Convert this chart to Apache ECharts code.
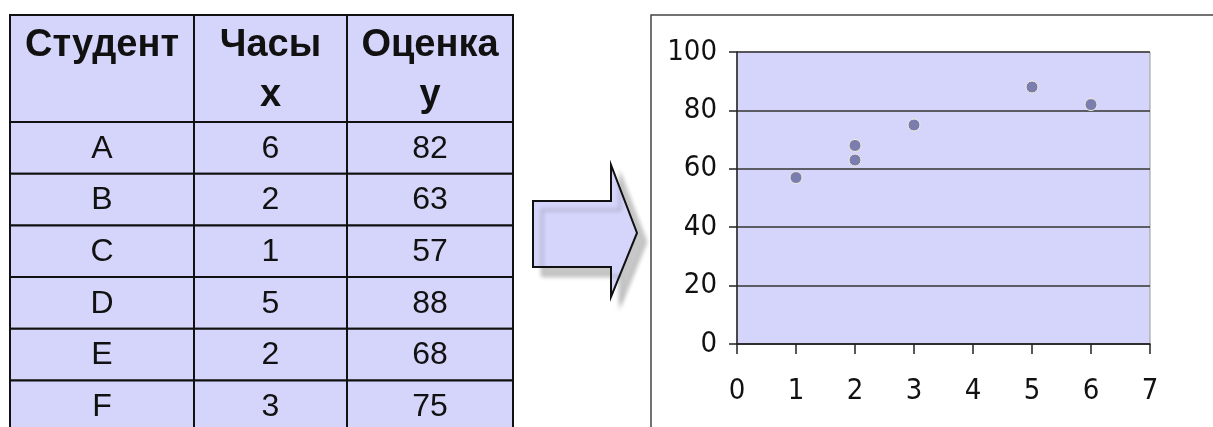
<!DOCTYPE html>
<html>
<head>
<meta charset="utf-8">
<script src="https://cdn.jsdelivr.net/npm/echarts@6/dist/echarts.min.js"></script>
<style>
    html, body { margin: 0; padding: 0; background: #fff; }
    #main { width: 1213px; height: 427px; }
</style>
</head>
<body>
<div id="main"></div>
<script>
// table + scatter data
var students = ['A', 'B', 'C', 'D', 'E', 'F'];
var hours = [6, 2, 1, 5, 2, 3];
var scores = [82, 63, 57, 88, 68, 75];
var headers = ['Студент', 'Часы\nx', 'Оценка\ny'];
var xTicks = [0, 1, 2, 3, 4, 5, 6, 7];
var yTicks = [0, 20, 40, 60, 80, 100];

var fill = '#D5D5FB';
var axisFont = '"DejaVu Sans Condensed", "DejaVu Sans", sans-serif';

// table geometry
var colX = [10, 194, 347, 513];
var tableTop = 15;
var headH = 107;
var rowH = 51.7;

var graphics = [];

// cells
var cols = [students, hours, scores];
for (var c = 0; c < 3; c++) {
    var w = colX[c + 1] - colX[c];
    graphics.push({
        type: 'rect',
        shape: {x: colX[c], y: tableTop, width: w, height: headH},
        style: {fill: fill, stroke: '#111', lineWidth: 2}
    });
    graphics.push({
        type: 'text',
        x: colX[c] + w / 2,
        y: tableTop + 6,
        style: {
            text: headers[c],
            fill: '#111',
            font: 'bold 38px "Liberation Sans", Arial, sans-serif',
            lineHeight: 50,
            align: 'center',
            verticalAlign: 'top'
        }
    });
    for (var r = 0; r < students.length; r++) {
        var y = tableTop + headH + r * rowH;
        graphics.push({
            type: 'rect',
            shape: {x: colX[c], y: y, width: w, height: rowH},
            style: {fill: fill, stroke: '#111', lineWidth: 2}
        });
        graphics.push({
            type: 'text',
            x: colX[c] + w / 2,
            y: y + rowH / 2 + 1,
            style: {
                text: String(cols[c][r]),
                fill: '#111',
                font: '32px "Liberation Sans", Arial, sans-serif',
                align: 'center',
                verticalAlign: 'middle'
            }
        });
    }
}

// arrow
graphics.push({
    type: 'polygon',
    shape: {
        points: [[533, 201], [611, 201], [611, 165], [637, 233], [611, 297], [611, 267], [533, 267]]
    },
    style: {
        fill: fill,
        stroke: '#111',
        lineWidth: 2,
        shadowBlur: 4,
        shadowOffsetX: 9,
        shadowOffsetY: 9,
        shadowColor: 'rgba(0,0,0,0.22)'
    }
});

// chart frame
graphics.push({
    type: 'rect',
    z: -1,
    shape: {x: 651, y: 15, width: 600, height: 440},
    style: {fill: '#fff', stroke: '#444', lineWidth: 1.5}
});

var chart = echarts.init(document.getElementById('main'));

chart.setOption({
    animation: false,
    backgroundColor: '#fff',
    graphic: graphics,
    grid: {
        left: 737,
        top: 52,
        width: 413,
        height: 292,
        show: true,
        backgroundColor: fill,
        borderColor: '#999',
        borderWidth: 1
    },
    xAxis: {
        type: 'value',
        min: xTicks[0],
        max: xTicks[xTicks.length - 1],
        interval: 1,
        axisLine: {lineStyle: {color: '#222', width: 1.5}},
        axisTick: {show: true, length: 10, lineStyle: {color: '#222', width: 1.5}},
        splitLine: {show: false},
        axisLabel: {
            color: '#111',
            fontFamily: axisFont,
            fontSize: 29,
            margin: 33
        }
    },
    yAxis: {
        type: 'value',
        min: yTicks[0],
        max: yTicks[yTicks.length - 1],
        interval: 20,
        axisLine: {show: true, lineStyle: {color: '#222', width: 1.5}},
        axisTick: {show: true, length: 8, lineStyle: {color: '#222', width: 1.5}},
        splitLine: {lineStyle: {color: '#333', width: 1.5}},
        axisLabel: {
            color: '#111',
            fontFamily: axisFont,
            fontSize: 29,
            margin: 20
        }
    },
    series: [
        {
            type: 'scatter',
            symbolSize: 12,
            itemStyle: {
                color: '#7A7DAE',
                borderColor: '#EEEED8',
                borderWidth: 1,
                opacity: 1
            },
            data: hours.map(function (h, i) { return [h, scores[i]]; })
        }
    ]
});
</script>
</body>
</html>
